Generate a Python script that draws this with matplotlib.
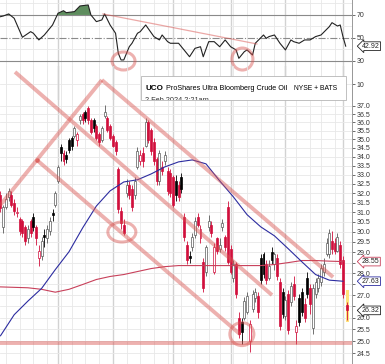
import matplotlib
matplotlib.use('Agg')
import matplotlib.pyplot as plt
import numpy as np
import pandas as pd
from matplotlib.patches import Ellipse, Rectangle
from matplotlib.ticker import NullLocator, NullFormatter
from matplotlib.transforms import ScaledTranslation, blended_transform_factory

plt.rcParams['font.family'] = ['Liberation Sans', 'DejaVu Sans']

# ---- daily candles, 3 Aug 2023 .. 1 Feb 2024 (UCO) ----
opens = [31.9, 30.26, 31.28, 31.8, 31.9, 31.48, 30.96, 30.66, 30.56, 30.26,
         29.67, 30.56, 30.76, 30.26, 28.7, 28.8, 29.86, 29.67, 30.06, 30.96,
         31.38, 32.66, 34.53, 34.19, 34.08, 34.99, 35.1, 35.22, 34.99, 36.16,
         36.52, 36.64, 36.88, 36.16, 36.16, 35.8, 35.33, 34.99, 36.4, 36.28,
         35.8, 35.22, 34.87, 33.3, 31.06, 30.36, 32.0, 32.44, 32.22, 31.9,
         33.41, 33.74, 34.19, 34.64, 36.04, 35.57, 34.87, 33.85, 32.66, 33.41,
         33.74, 33.2, 33.09, 32.87, 32.66, 32.44, 32.87, 30.76, 29.37, 28.8,
         29.27, 29.86, 30.76, 29.67, 28.52, 28.05, 30.26, 30.36, 28.05, 29.67,
         29.17, 30.26, 29.76, 31.28, 29.17, 27.77, 28.42, 25.99, 25.82, 26.0,
         26.27, 25.0, 26.4, 26.87, 26.96, 28.71, 28.9, 28.42, 27.77, 28.99,
         28.42, 28.71, 27.59, 27.14, 26.08, 27.05, 26.69, 27.5, 25.4, 26.87,
         27.14, 26.6, 27.77, 27.32, 25.57, 27.05, 27.32, 27.59, 28.05, 28.9,
         28.9, 29.57, 29.47, 29.08, 29.37, 28.61]
highs = [32.1, 31.38, 32.0, 32.3, 32.1, 31.7, 31.26, 30.76, 30.66, 30.36,
         30.36, 30.66, 30.96, 30.36, 29.37, 29.76, 30.16, 30.36, 30.76, 31.16,
         32.1, 33.52, 34.75, 34.41, 34.3, 35.1, 35.22, 35.8, 35.45, 36.52,
         36.64, 36.76, 37.0, 36.28, 36.28, 35.92, 35.45, 35.8, 37.05, 36.4,
         35.92, 35.33, 34.99, 33.4, 31.26, 30.66, 32.76, 32.66, 32.44, 32.87,
         34.53, 34.41, 34.53, 36.28, 36.16, 35.68, 35.1, 33.97, 34.41, 33.74,
         34.3, 33.41, 33.3, 32.98, 32.98, 32.66, 33.09, 30.96, 29.57, 29.08,
         29.96, 30.76, 30.96, 30.36, 28.7, 29.37, 30.86, 30.56, 29.47, 29.76,
         29.67, 30.66, 29.86, 31.6, 29.37, 28.61, 28.52, 26.27, 26.0, 26.9,
         27.15, 25.9, 27.25, 27.3, 27.15, 28.9, 28.99, 28.61, 28.61, 29.27,
         28.99, 28.9, 27.77, 27.32, 26.96, 27.23, 27.59, 27.86, 25.91, 27.05,
         27.32, 26.87, 28.05, 27.5, 27.5, 27.77, 27.95, 28.42, 28.71, 29.67,
         30.16, 30.06, 29.67, 29.96, 29.57, 28.8]
lows = [31.0, 29.96, 31.18, 31.58, 31.28, 30.86, 30.76, 29.86, 29.76, 29.37,
        29.47, 29.76, 30.06, 29.37, 28.32, 28.61, 29.27, 29.47, 29.86, 30.56,
        31.28, 32.55, 33.74, 33.52, 33.63, 34.19, 34.41, 35.1, 34.64, 35.92,
        35.92, 36.04, 35.92, 35.33, 35.45, 34.99, 34.64, 34.87, 36.28, 35.45,
        34.99, 34.53, 34.08, 30.96, 30.16, 29.86, 31.8, 31.7, 31.06, 31.7,
        33.3, 33.52, 33.41, 34.53, 34.76, 34.08, 33.52, 32.44, 32.44, 32.98,
        33.52, 31.9, 31.8, 31.28, 31.6, 31.6, 32.0, 29.56, 28.42, 28.5,
        29.08, 29.67, 30.26, 29.47, 27.13, 27.86, 30.06, 29.76, 27.95, 28.9,
        28.99, 30.06, 29.08, 28.42, 27.95, 27.58, 26.87, 25.12, 24.9, 25.9,
        26.17, 24.56, 26.27, 26.7, 25.99, 27.5, 27.77, 27.5, 27.68, 28.42,
        28.14, 27.68, 25.48, 25.99, 25.91, 25.31, 26.51, 26.78, 24.9, 25.66,
        26.08, 25.82, 26.87, 26.17, 25.31, 26.87, 27.14, 27.41, 27.86, 28.8,
        28.71, 28.9, 28.9, 28.99, 28.24, 26.87]
closes = [31.2, 31.28, 31.7, 32.1, 31.38, 31.06, 31.0, 30.06, 29.96, 29.57,
          30.16, 29.96, 30.26, 29.67, 29.08, 29.57, 29.76, 30.16, 30.56, 30.86,
          32.0, 33.42, 34.19, 33.74, 33.85, 34.41, 34.64, 35.68, 35.33, 36.4,
          36.16, 36.28, 36.16, 35.45, 35.68, 35.1, 34.87, 35.68, 36.64, 35.57,
          35.1, 34.64, 34.3, 31.16, 30.46, 29.96, 32.44, 31.9, 31.28, 32.66,
          34.3, 34.08, 33.74, 36.04, 34.99, 34.3, 33.74, 32.66, 34.19, 33.2,
          34.08, 32.12, 32.0, 31.38, 31.9, 31.8, 32.22, 29.76, 28.61, 28.7,
          29.76, 30.56, 30.36, 30.16, 27.31, 29.27, 30.56, 29.96, 29.27, 29.08,
          29.37, 30.46, 29.27, 28.52, 28.05, 28.42, 27.05, 25.31, 25.4, 26.72,
          26.96, 25.74, 27.05, 27.15, 26.27, 27.68, 27.95, 27.68, 28.33, 28.61,
          28.9, 27.86, 25.66, 26.17, 26.78, 25.48, 27.41, 26.96, 25.66, 25.82,
          26.27, 26.0, 27.05, 26.6, 27.32, 27.59, 27.77, 28.24, 28.42, 29.47,
          29.96, 29.17, 29.08, 29.76, 28.42, 27.05]

# pre-market bar of 2 Feb
pre_open, pre_high, pre_low, pre_close = 26.55, 26.7, 25.9, 26.32

# moving averages, read every 5th session
ma_idx = list(range(0, 126, 5))
sma50 = [25.23, 26.13, 26.73, 27.3, 28.17, 29.02, 30.2, 31.32, 32.12, 32.6,
         32.72, 33.04, 33.43, 33.71, 33.82, 33.6, 32.66, 31.8, 30.87, 30.25,
         29.8, 29.17, 28.54, 27.94, 27.68, 27.63]
sma200 = [27.37, 27.35, 27.33, 27.26, 27.13, 27.26, 27.48, 27.71, 27.85, 27.94,
          28.08, 28.22, 28.31, 28.36, 28.36, 28.36, 28.36, 28.36, 28.36, 28.36,
          28.41, 28.5, 28.6, 28.6, 28.57, 28.55]

# RSI(14)
rsi_idx = [0, 1, 3, 5, 8, 11, 12, 14, 16, 17, 19, 21, 23, 24, 27, 29, 32, 33,
           35, 37, 38, 40, 42, 43, 44, 45, 47, 48, 50, 51, 53, 56, 58, 59, 61,
           62, 65, 67, 69, 71, 73, 74, 76, 78, 80, 82, 84, 86, 87, 89, 90, 92,
           93, 96, 97, 98, 100, 102, 104, 106, 107, 109, 111, 113, 115, 117,
           120, 121, 123, 124, 125, 126]
rsi_val = [68.5, 69.1, 70.9, 67.1, 50.6, 55.5, 54.1, 48.3, 52.6, 55.5, 61.3,
           71.5, 73.7, 72.0, 72.9, 77.8, 78.7, 70.0, 64.2, 65.7, 70.9, 61.3,
           54.1, 36.7, 30.9, 30.9, 42.4, 45.4, 54.1, 55.5, 61.3, 51.2, 48.3,
           52.6, 46.8, 45.4, 45.4, 39.6, 33.7, 41.0, 42.4, 33.7, 46.8, 46.8,
           42.4, 48.3, 42.4, 39.6, 32.3, 38.1, 39.6, 35.2, 45.4, 52.6, 49.7,
           51.2, 52.6, 45.4, 39.6, 48.3, 46.8, 45.4, 48.3, 48.3, 51.2, 52.6,
           59.8, 63.3, 60.4, 61.3, 51.2, 42.9]

# hand-drawn annotations: (session index, price) end points
trend_lines = [
    [(5.3, 39.16), (99.1, 27.0)],
    [(-0.2, 31.35), (37.0, 38.64)],
    [(37.0, 38.64), (121.4, 27.82)],
    [(13.3, 33.81), (87.4, 25.3)],
]
support_level = 24.94
price_circles = [(44.3, 29.99, 28, 20), (88.1, 25.3, 24, 23)]
rsi_circles = [(44.9, 30.0, 23, 18), (88.3, 31.7, 21, 22)]
rsi_trend = [(37.4, 70.9), (93.6, 44.8)]

holidays = ['2023-09-04', '2023-11-23', '2023-12-25', '2024-01-01', '2024-01-15']
dates = pd.bdate_range('2023-08-03', '2024-02-01', freq='C', holidays=holidays)

RED = '#d10f3c'
PINK = '#d9534f'
PA = 0.45
W, H = 385, 364

fig = plt.figure(figsize=(W / 100, H / 100), dpi=100)
ax_r = fig.add_axes([0, 1 - 100 / H, 352 / W, 100 / H])
ax = fig.add_axes([0, 0, 352 / W, 298 / H])
ax.patch.set_alpha(0)

x0, x1 = -0.18, 128.3
for a in (ax, ax_r):
    a.set_xlim(x0, x1)
    a.xaxis.set_visible(False)
    for s in ('top', 'left', 'bottom'):
        a.spines[s].set_visible(False)
    a.spines['right'].set_color('#999999')
    a.spines['right'].set_linewidth(0.7)
    a.yaxis.tick_right()
    a.tick_params(axis='y', length=2, width=0.5, pad=1.5, labelsize=5,
                  colors='#333333')

# vertical grid: weeks light, months darker
for i in range(1, len(dates)):
    if dates[i].month != dates[i - 1].month:
        for a in (ax, ax_r):
            a.axvline(i, color='#d2d2d2', lw=1.0, zorder=0)
    elif dates[i].weekday() < dates[i - 1].weekday():
        for a in (ax, ax_r):
            a.axvline(i, color='#e8e8e8', lw=0.6, zorder=0)

# ---- RSI panel ----
ax_r.set_ylim(-3.9, 83.0)
ax_r.set_yticks([10, 30, 50, 70])
ax_r.set_yticklabels(['10', '30', '50', '70'])
for lvl in (10, 40, 60, 80):
    ax_r.axhline(lvl, color='#e8e8e8', lw=0.6, zorder=0)
ax_r.axhline(70, color='#8a8a8a', lw=0.8, zorder=1)
ax_r.axhline(30, color='#8a8a8a', lw=0.8, zorder=1)
ax_r.axhline(50, color='#8a8a8a', lw=0.8, ls='-.', zorder=1)
rv = np.array(rsi_val)
ax_r.fill_between(rsi_idx, 70, rv, where=rv >= 70, interpolate=True,
                  color='#5e8d5e', lw=0, zorder=2)
ax_r.plot(rsi_idx, rsi_val, color='#222222', lw=0.8, zorder=3)
ax_r.plot([p[0] for p in rsi_trend], [p[1] for p in rsi_trend],
          color=PINK, alpha=0.5, lw=0.9, zorder=4)
for cx, cy, w, h in rsi_circles:
    e = Ellipse((0, 0), w / 100, h / 100, fill=False, ec=PINK, alpha=PA, lw=2.2,
                transform=fig.dpi_scale_trans + ScaledTranslation(cx, cy, ax_r.transData),
                zorder=5)
    ax_r.add_patch(e)
tr_r = blended_transform_factory(ax_r.transAxes, ax_r.transData)
ax_r.text(1.028, rsi_val[-1], f'{rsi_val[-1] + 0.02:.2f}', transform=tr_r, fontsize=5,
          ha='left', va='center', color='#222222', clip_on=False, zorder=10,
          bbox=dict(boxstyle='larrow,pad=0.12', fc='white', ec='#222222', lw=0.6))

# ---- price panel ----
ax.set_yscale('log')
ax.set_ylim(24.07, 39.55)
pticks = np.arange(24.5, 37.01, 0.5)
ax.yaxis.set_minor_locator(NullLocator())
ax.yaxis.set_minor_formatter(NullFormatter())
ax.set_yticks(pticks)
# tags on the right cover 26.5, 27.5 and 28.5
ax.set_yticklabels(['' if t in (26.5, 27.5, 28.5) else f'{t:.1f}' for t in pticks])
for t in pticks:
    ax.axhline(t, color='#e8e8e8', lw=0.6, zorder=0)

o = np.array(opens); hi = np.array(highs); lo = np.array(lows); c = np.array(closes)
n = len(c)
idx = np.arange(n)
prev = np.r_[o[0], c[:-1]]
down = c < prev
hollow = c >= o
edge = np.where(down, RED, np.where(hollow, '#5a5a5a', '#000000'))
face = np.where(hollow, 'white', edge)
ax.vlines(idx, lo, hi, colors=edge, lw=0.6, zorder=3)
body_lo = np.minimum(o, c)
body_h = np.maximum(np.abs(c - o), 0.04)
ax.bar(idx, body_h, bottom=body_lo, width=0.72, color=face, edgecolor=edge,
       linewidth=0.5, zorder=4)

ax.plot(ma_idx, sma200, color='#c8405a', lw=0.8, zorder=5)
ax.plot(ma_idx, sma50, color='#2c2ca0', lw=0.8, zorder=5)

# pre-market bar with yellow highlight
ax.add_patch(Rectangle((126.0, pre_low - 0.08), 1.1, pre_high - pre_low + 0.6,
                       fc='#ffe37a', ec='none', zorder=3))
ax.vlines(126.5, pre_low, pre_high, colors=RED, lw=0.6, zorder=4)
ax.bar(126.5, pre_open - pre_close, bottom=pre_close, width=0.72, color=RED,
       edgecolor=RED, lw=0.5, zorder=4)

# hand-drawn annotations
for (xa, ya), (xb, yb) in trend_lines:
    ax.plot([xa, xb], [ya, yb], color=PINK, alpha=PA, lw=2.8,
            solid_capstyle='butt', zorder=6, clip_on=False)
ax.axhline(support_level, color=PINK, alpha=PA, lw=2.8, zorder=6)
ax.plot([13.3], [33.81], 'o', color=PINK, alpha=0.55, ms=2.5, zorder=6)
for cx, cy, w, h in price_circles:
    e = Ellipse((0, 0), w / 100, h / 100, fill=False, ec=PINK, alpha=PA, lw=2.2,
                transform=fig.dpi_scale_trans + ScaledTranslation(cx, cy, ax.transData),
                zorder=7)
    ax.add_patch(e)

# value tags on the right
tr_p = blended_transform_factory(ax.transAxes, ax.transData)
for val, col in ((sma200[-1], '#c8405a'), (sma50[-1], '#2c2ca0'), (pre_close, '#222222')):
    ax.text(1.028, val, f'{val:.2f}', transform=tr_p, fontsize=5, ha='left',
            va='center', color='#222222', clip_on=False, zorder=10,
            bbox=dict(boxstyle='larrow,pad=0.12', fc='white', ec=col, lw=0.6))

# title box
box = Rectangle((141 / W, 1 - 100 / H), 205 / W, 24 / H, transform=fig.transFigure,
                fc='white', ec='#b5b5b5', lw=0.6, zorder=20)
fig.add_artist(box)
fig.text(145 / W, 1 - 89 / H, 'UCO', fontsize=5.8, fontweight='bold', va='center',
         zorder=21)
fig.text(166 / W, 1 - 89 / H, 'ProShares Ultra Bloomberg Crude Oil', fontsize=5.2,
         va='center', zorder=21)
fig.text(294 / W, 1 - 89 / H, 'NYSE + BATS', fontsize=4.9, va='center', zorder=21)
sub = fig.text(145 / W, 1 - 100 / H, '2 Feb 2024 2:21am', fontsize=5.3, va='center',
               color='#333333', zorder=21)
sub.set_clip_path(box)

fig.savefig('out.png', dpi=100)
